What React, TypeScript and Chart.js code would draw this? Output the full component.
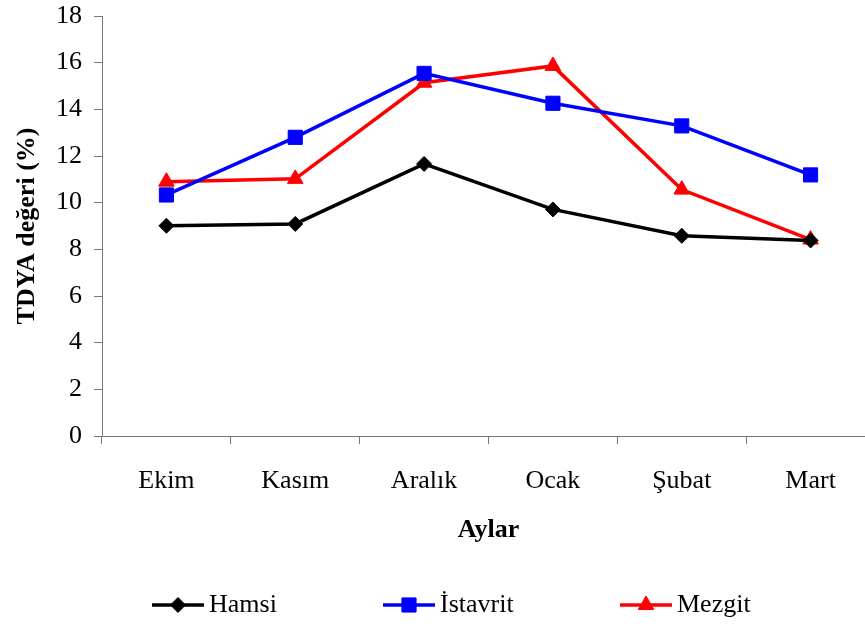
import React, { useEffect, useRef } from "react";
import { Chart, registerables } from "chart.js";
import { drawPoint } from "chart.js/helpers";

Chart.register(...registerables);

const months = ["Ekim", "Kasım", "Aralık", "Ocak", "Şubat", "Mart"];
const hamsi = [9.01, 9.09, 11.66, 9.71, 8.58, 8.38];
const istavrit = [10.33, 12.8, 15.54, 14.26, 13.29, 11.19];
const mezgit = [10.9, 11.02, 15.14, 15.86, 10.56, 8.42];
const seriesNames = ["Hamsi", "İstavrit", "Mezgit"];
const yMin = 0;
const yMax = 18;
const yStep = 2;
const yTitle = "TDYA değeri (%)";
const xTitle = "Aylar";

const FONT = "'Liberation Serif', 'Times New Roman', serif";

const legendX = [152, 383, 620];
const legendY = 605;

const legendPlugin = {
  id: "customLegend",
  afterDraw(chart: any) {
    const ctx = chart.ctx;
    ctx.save();
    chart.data.datasets.forEach((ds: any, i: number) => {
      const x0 = legendX[i];
      const x1 = x0 + 52;
      ctx.strokeStyle = ds.borderColor;
      ctx.lineWidth = 3.5;
      ctx.beginPath();
      ctx.moveTo(x0, legendY);
      ctx.lineTo(x1, legendY);
      ctx.stroke();
      ctx.fillStyle = ds.pointBackgroundColor;
      ctx.strokeStyle = ds.pointBorderColor;
      ctx.lineWidth = 1;
      drawPoint(
        ctx,
        { pointStyle: ds.pointStyle, radius: ds.pointRadius, rotation: 0, borderWidth: 1 },
        (x0 + x1) / 2,
        legendY
      );
      ctx.fillStyle = "#000";
      ctx.font = `26px ${FONT}`;
      ctx.textBaseline = "middle";
      ctx.textAlign = "left";
      ctx.fillText(ds.label, x1 + 5, legendY);
    });
    ctx.restore();
  },
};

export default function App() {
  const ref = useRef<HTMLCanvasElement | null>(null);

  useEffect(() => {
    if (!ref.current) return;
    const mk = (label: string, data: number[], color: string, style: string, r: number) => ({
      label,
      data,
      borderColor: color,
      backgroundColor: color,
      pointBackgroundColor: color,
      pointBorderColor: color,
      pointStyle: style,
      pointRadius: r,
      pointBorderWidth: 1,
      borderWidth: 3.5,
      tension: 0,
    });
    const chart = new Chart(ref.current, {
      type: "line",
      data: {
        labels: months,
        datasets: [
          mk(seriesNames[0], hamsi, "#000000", "rectRot", 7.5),
          mk(seriesNames[1], istavrit, "#0000FF", "rect", 10),
          mk(seriesNames[2], mezgit, "#FF0000", "triangle", 9),
        ],
      },
      options: {
        responsive: false,
        animation: false,
        devicePixelRatio: 1,
        layout: { padding: { left: 12, top: 16, right: 5.5, bottom: 80 } },
        plugins: { legend: { display: false }, tooltip: { enabled: false } },
        scales: {
          x: {
            type: "category",
            offset: true,
            grid: {
              display: true,
              offset: true,
              drawOnChartArea: false,
              drawTicks: true,
              tickLength: 8,
              color: "#777",
            },
            border: { display: true, color: "#777", width: 1 },
            ticks: { color: "#000", font: { family: FONT, size: 26 }, padding: 22, maxRotation: 0 },
            title: {
              display: true,
              text: xTitle,
              color: "#000",
              font: { family: FONT, size: 26, weight: "bold" },
              padding: 0,
            },
            afterFit(scale: any) {
              scale.height = 110;
              scale.paddingLeft = 0;
              scale.paddingRight = 0;
            },
          },
          y: {
            min: yMin,
            max: yMax,
            grid: {
              display: true,
              drawOnChartArea: false,
              drawTicks: true,
              tickLength: 8,
              color: "#777",
            },
            border: { display: true, color: "#777", width: 1 },
            ticks: { stepSize: yStep, color: "#000", font: { family: FONT, size: 26 }, padding: 12 },
            title: {
              display: true,
              text: yTitle,
              color: "#000",
              font: { family: FONT, size: 26, weight: "bold" },
              padding: 0,
            },
            afterFit(scale: any) {
              scale.width = 90;
              scale.paddingTop = 0;
              scale.paddingBottom = 0;
            },
          },
        },
      },
      plugins: [legendPlugin],
    } as any);
    return () => chart.destroy();
  }, []);

  return (
    <div style={{ position: "fixed", left: 0, top: 0, width: 865, height: 626, overflow: "hidden", background: "#fff" }}>
      <canvas ref={ref} width={886} height={626} style={{ display: "block", width: 886, height: 626 }} />
    </div>
  );
}
